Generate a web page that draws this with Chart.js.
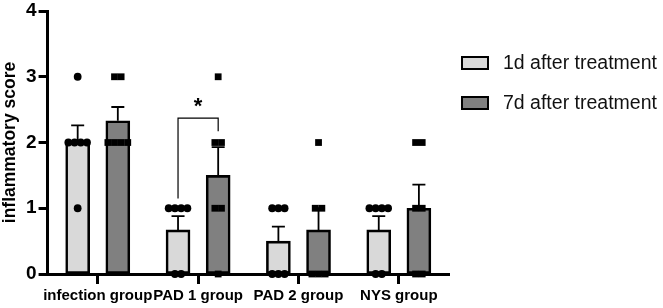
<!DOCTYPE html>
<html><head><meta charset="utf-8">
<script src="https://cdn.jsdelivr.net/npm/chart.js@4"></script>
<style>html,body{margin:0;padding:0;background:#fff}#wrap{width:663px;height:308px}</style>
</head><body><div id="wrap"><canvas id="c" width="663" height="308"></canvas></div>
<script>
// ---- data ----
const categories = ['infection group', 'PAD 1 group', 'PAD 2 group', 'NYS group'];
const seriesLabels = ['1d after treatment', '7d after treatment'];
const mean1d = [2.0, 0.67, 0.5, 0.67];
const mean7d = [2.33, 1.5, 0.67, 1.0];
const sem1d = [0.26, 0.21, 0.22, 0.21];
const sem7d = [0.21, 0.43, 0.33, 0.36];
const points1d = [[3, 2, 2, 2, 2, 1], [1, 1, 1, 1, 0, 0], [1, 1, 1, 0, 0, 0], [1, 1, 1, 1, 0, 0]];
const points7d = [[3, 3, 2, 2, 2, 2], [3, 2, 2, 1, 1, 0], [2, 1, 1, 0, 0, 0], [2, 2, 1, 1, 0, 0]];
const yTickValues = [0, 1, 2, 3, 4];
const significance = { category: 1, bracketY: 2.37, leftEndY: 1.15, rightEndY: 2.17, starY: 2.6, text: '*' };

// ---- layout / style ----
const FONT = "'Liberation Sans', Arial, sans-serif";
const GROUP_SPAN = 0.8;          // share of a category used by the two bars
const fills = ['#d9d9d9', '#808080'];

function slotOffset(i) { return -GROUP_SPAN / 2 + (GROUP_SPAN / 2) * (i + 0.5); }
function barData(means, seriesIdx) {
  return means.map((m, ci) => ({ x: ci + slotOffset(seriesIdx), y: m }));
}
function scatterData(groups, seriesIdx, spacing) {
  const out = [];
  groups.forEach((vals, ci) => {
    const counts = {};
    vals.forEach(v => counts[v] = (counts[v] || 0) + 1);
    const seen = {};
    vals.forEach(v => {
      const k = counts[v], j = (seen[v] = (seen[v] || 0) + 1) - 1;
      out.push({ x: ci + slotOffset(seriesIdx) + (j - (k - 1) / 2) * spacing, y: v });
    });
  });
  return out;
}

const errorBars = {
  id: 'errorBars',
  afterDatasetDraw(chart, args) {
    const ds = chart.data.datasets[args.index];
    if (!ds.semValues) return;
    const ctx = chart.ctx, y = chart.scales.y;
    ctx.save();
    ctx.strokeStyle = '#000'; ctx.lineWidth = 1.8;
    args.meta.data.forEach((bar, i) => {
      const m = ds.data[i].y;
      const base = y.getPixelForValue(m);
      const top = y.getPixelForValue(m + ds.semValues[i]);
      ctx.beginPath();
      ctx.moveTo(bar.x, base); ctx.lineTo(bar.x, top);
      ctx.moveTo(bar.x - 6.5, top); ctx.lineTo(bar.x + 6.5, top);
      ctx.stroke();
    });
    ctx.restore();
  }
};

const bracket = {
  id: 'bracket',
  afterDatasetsDraw(chart) {
    const ctx = chart.ctx, y = chart.scales.y;
    const b0 = chart.getDatasetMeta(0).data[significance.category];
    const b1 = chart.getDatasetMeta(1).data[significance.category];
    const yb = y.getPixelForValue(significance.bracketY);
    ctx.save();
    ctx.strokeStyle = '#000'; ctx.lineWidth = 1.2;
    ctx.beginPath();
    ctx.moveTo(b0.x, y.getPixelForValue(significance.leftEndY));
    ctx.lineTo(b0.x, yb); ctx.lineTo(b1.x, yb);
    ctx.lineTo(b1.x, y.getPixelForValue(significance.rightEndY));
    ctx.stroke();
    ctx.fillStyle = '#000';
    ctx.font = 'bold 22px ' + FONT;
    ctx.textAlign = 'center'; ctx.textBaseline = 'middle';
    ctx.fillText(significance.text, (b0.x + b1.x) / 2, y.getPixelForValue(significance.starY) + 4);
    ctx.restore();
  }
};

const sideLegend = {
  id: 'sideLegend',
  afterDraw(chart) {
    const ctx = chart.ctx;
    const x0 = chart.chartArea.right + 13;
    ctx.save();
    seriesLabels.forEach((lab, i) => {
      const cy = 63 + i * 40;
      ctx.fillStyle = fills[i];
      ctx.fillRect(x0, cy - 6, 26, 12);
      ctx.strokeStyle = '#000'; ctx.lineWidth = 2;
      ctx.strokeRect(x0, cy - 6, 26, 12);
      ctx.fillStyle = '#111';
      ctx.font = '19.5px ' + FONT;
      ctx.textAlign = 'left'; ctx.textBaseline = 'middle';
      ctx.fillText(lab, x0 + 41, cy + 1);
    });
    ctx.restore();
  }
};

new Chart(document.getElementById('c'), {
  type: 'bar',
  data: {
    datasets: [
      { type: 'bar', label: seriesLabels[0], data: barData(mean1d, 0), semValues: sem1d, backgroundColor: fills[0],
        borderColor: '#000', borderWidth: 2.6, borderSkipped: false, order: 2, grouped: false, barThickness: 24 },
      { type: 'bar', label: seriesLabels[1], data: barData(mean7d, 1), semValues: sem7d, backgroundColor: fills[1],
        borderColor: '#000', borderWidth: 2.6, borderSkipped: false, order: 2, grouped: false, barThickness: 24 },
      { type: 'scatter', data: scatterData(points1d, 0, 0.062), pointStyle: 'circle', clip: false,
        pointRadius: 3.9, backgroundColor: '#000', borderWidth: 0, order: 0, showLine: false },
      { type: 'scatter', data: scatterData(points7d, 1, 0.066), pointStyle: 'rect', clip: false,
        pointRadius: 4.8, backgroundColor: '#000', borderWidth: 0, order: 0, showLine: false }
    ]
  },
  options: {
    responsive: false, animation: false,
    layout: { padding: { top: 0, right: 214, bottom: 0, left: 0 } },
    plugins: { legend: { display: false }, tooltip: { enabled: false } },
    scales: {
      x: {
        type: 'linear', offset: false, min: -0.5, max: categories.length - 0.5,
        afterBuildTicks(scale) { scale.ticks = categories.map((c, i) => ({ value: i })); },
        border: { display: true, color: '#000', width: 3 },
        grid: { display: true, drawOnChartArea: false, drawTicks: true, offset: false,
                tickLength: 10, tickWidth: 3, tickColor: '#000' },
        ticks: { color: '#000', font: { family: FONT, size: 15, weight: 'bold' }, padding: 3,
                 maxRotation: 0, minRotation: 0, autoSkip: false,
                 callback: (v) => categories[v] }
      },
      y: {
        min: 0, max: 4,
        afterBuildTicks(scale) { scale.ticks = yTickValues.map(v => ({ value: v })); },
        border: { display: true, color: '#000', width: 3 },
        grid: { display: true, drawOnChartArea: false, drawTicks: true, tickLength: 9, tickWidth: 3, tickColor: '#000' },
        ticks: { color: '#000', font: { family: FONT, size: 19, weight: 'bold', lineHeight: 0.95 }, padding: 2 },
        title: { display: true, text: 'inflammatory score', color: '#000',
                 font: { family: FONT, size: 17.5, weight: 'bold' }, padding: { top: 0, bottom: 3 } }
      }
    }
  },
  plugins: [errorBars, bracket, sideLegend]
});
</script></body></html>
